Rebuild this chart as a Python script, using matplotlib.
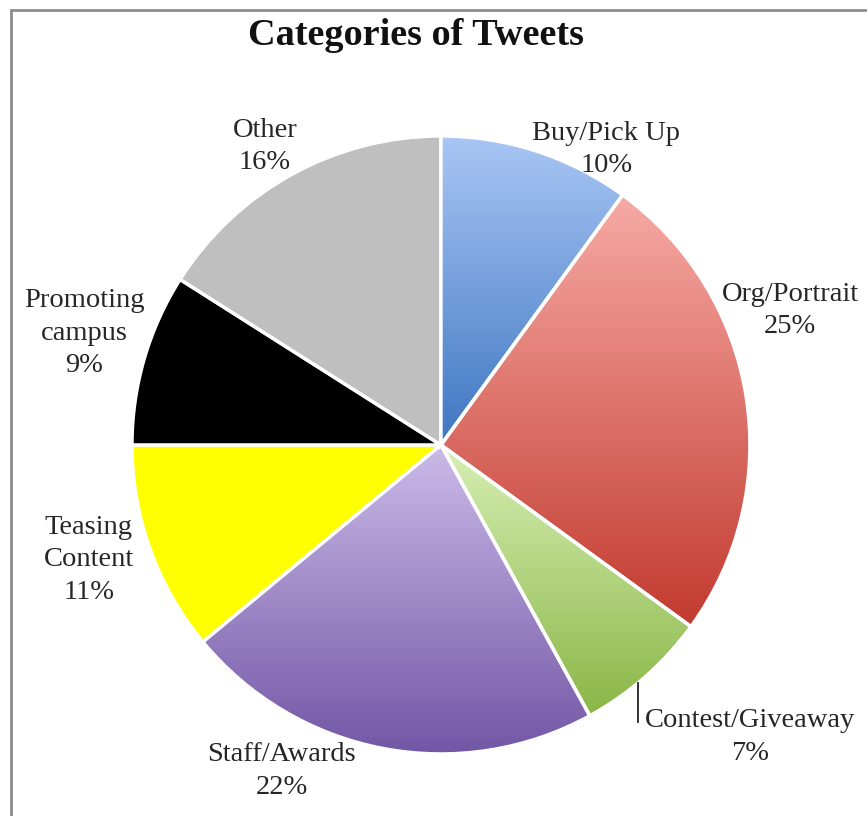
import numpy as np
import matplotlib.pyplot as plt
from matplotlib.colors import LinearSegmentedColormap
from matplotlib.patches import Rectangle, Wedge

# tweet categories, clockwise from 12 o'clock
categories = ["Buy/Pick Up", "Org/Portrait", "Contest/Giveaway", "Staff/Awards",
              "Teasing\nContent", "Promoting\ncampus", "Other"]
shares = [10, 25, 7, 22, 11, 9, 16]

# (top colour, bottom colour); equal pairs are flat fills
slice_colors = [
    ("#a9c6f4", "#3e76c2"),
    ("#f7aaa6", "#c23a2e"),
    ("#d6efb4", "#8ab646"),
    ("#cbbbe8", "#7054a4"),
    ("#ffff00", "#ffff00"),
    ("#000000", "#000000"),
    ("#bfbfbf", "#bfbfbf"),
]

# label anchor points in pie units (radius = 1)
label_xy = [(0.535, 0.955), (1.13, 0.435), (1.0, -0.945), (-0.515, -1.055),
            (-1.14, -0.372), (-1.155, 0.362), (-0.57, 0.965)]

plt.rcParams['font.family'] = ['Liberation Serif', 'DejaVu Serif']
text_color = "#262626"

fig = plt.figure(figsize=(8.67, 8.16), dpi=100)
fig.patch.set_facecolor("white")

# grey frame around the chart area
fig.add_artist(Rectangle((11 / 867, -0.05), 1.2, 1.05 - 10 / 816,
                         transform=fig.transFigure, fill=False,
                         edgecolor="#8c8c8c", linewidth=2))

ax = fig.add_axes([0.1522, 0.076, 0.7128, 0.7574])
wedges, _ = ax.pie(shares, startangle=90, counterclock=False,
                   colors=[c[0] for c in slice_colors],
                   wedgeprops=dict(edgecolor="white", linewidth=2.5))

# vertical gradients clipped to each wedge
for w, (top, bot) in zip(wedges, slice_colors):
    if top == bot:
        continue
    cmap = LinearSegmentedColormap.from_list("g", [bot, top])
    verts = w.get_patch_transform().transform(w.get_path().vertices)
    x0, x1 = verts[:, 0].min(), verts[:, 0].max()
    y0, y1 = verts[:, 1].min(), verts[:, 1].max()
    grad = np.linspace(0, 1, 256).reshape(-1, 1)
    im = ax.imshow(grad, cmap=cmap, origin="lower", aspect="auto",
                   extent=(x0, x1, y0, y1), interpolation="bilinear", zorder=1.5)
    im.set_clip_path(w)
    ax.add_patch(Wedge(w.center, w.r, w.theta1, w.theta2, facecolor="none",
                       edgecolor="white", linewidth=2.5, zorder=2))

for (lx, ly), name, val in zip(label_xy, categories, shares):
    ax.text(lx, ly, f"{name}\n{val}%", ha="center", va="center",
            fontsize=20.5, color=text_color, linespacing=1.38)

# leader line for the small contest slice
ax.plot([0.638, 0.638], [-0.77, -0.896], color="#222222", linewidth=1.3)

ax.set_xlim(-1, 1)
ax.set_ylim(-1, 1)
ax.set_aspect("equal")
ax.set_axis_off()
for a in ax.texts + ax.lines:
    a.set_clip_on(False)

fig.text(0.480, 0.957, "Categories of Tweets", ha="center", va="center",
         fontsize=27.5, fontweight="bold", color="#111111")

fig.savefig("out.png", dpi=100)
